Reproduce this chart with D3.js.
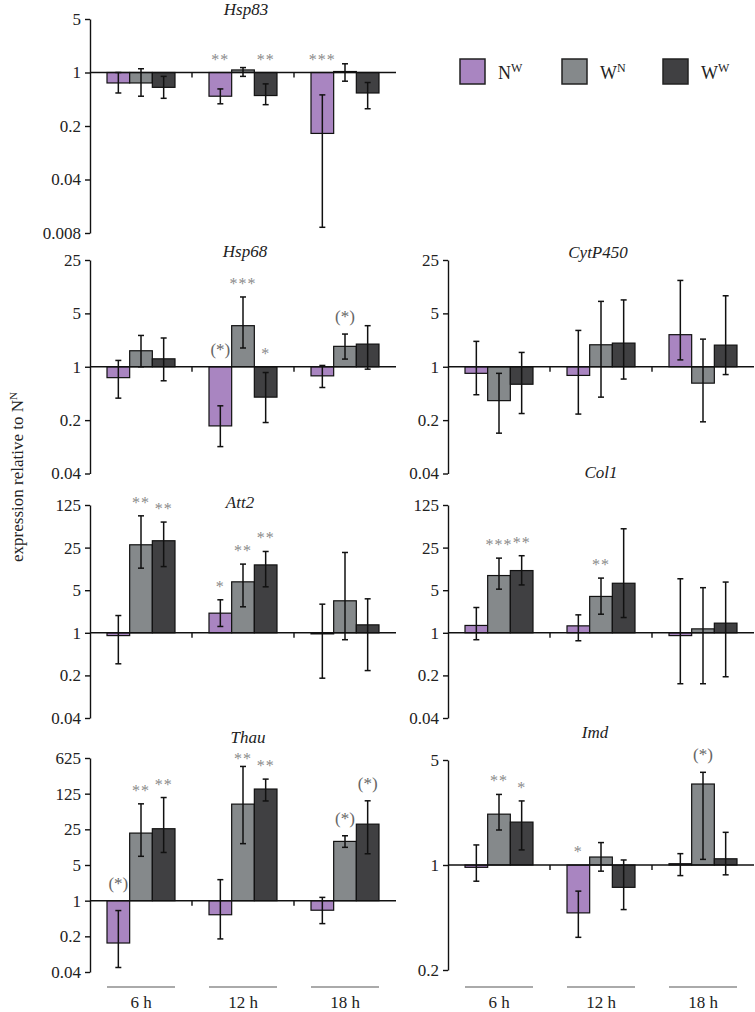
<!DOCTYPE html>
<html><head><meta charset="utf-8">
<script src="https://cdn.jsdelivr.net/npm/d3@7"></script>
<style>
body{margin:0;background:#fff;}
text{font-family:'Liberation Serif','Times New Roman',serif;fill:#222;}
</style></head>
<body>
<svg id="chart" width="755" height="1012"></svg>
<script>
// ---------- data (series x time: NW, WN, WW ; 6 h, 12 h, 18 h) ----------
const times = ["6 h", "12 h", "18 h"];
const seriesKeys = ["NW", "WN", "WW"];
const seriesBase = ["N", "W", "W"];
const seriesSup = ["W", "N", "W"];

const hsp83Mean = [[0.73, 0.49, 0.16], [0.73, 1.08, 1.03], [0.64, 0.50, 0.54]];
const hsp83Low  = [[0.54, 0.39, 0.0095], [0.49, 0.89, 0.77], [0.46, 0.38, 0.336]];
const hsp83High = [[1.0, 0.61, 0.51], [1.12, 1.16, 1.30], [0.89, 0.71, 0.74]];
const hsp83Sig  = [["", "**", "***"], ["", "", ""], ["", "**", ""]];

const hsp68Mean = [[0.72, 0.168, 0.76], [1.62, 3.45, 1.85], [1.27, 0.40, 1.98]];
const hsp68Low  = [[0.388, 0.09, 0.535], [1.0, 1.76, 1.26], [0.655, 0.186, 0.93]];
const hsp68High = [[1.21, 0.308, 1.04], [2.57, 8.2, 2.68], [2.38, 0.84, 3.45]];
const hsp68Sig  = [["", "(*)", ""], ["", "***", "(*)"], ["", "*", ""]];

const cypMean = [[0.82, 0.77, 2.63], [0.36, 1.94, 0.61], [0.59, 2.04, 1.92]];
const cypLow  = [[0.43, 0.24, 1.23], [0.135, 0.40, 0.19], [0.244, 0.69, 0.79]];
const cypHigh = [[2.15, 2.99, 13.5], [0.82, 7.18, 2.3], [1.54, 7.5, 8.5]];
const cypSig  = [["", "", ""], ["", "", ""], ["", "", ""]];

const att2Mean = [[0.90, 2.1, 0.96], [27.8, 6.86, 3.35], [32.4, 13.0, 1.35]];
const att2Low  = [[0.31, 1.27, 0.18], [11.5, 2.67, 0.77], [12.2, 5.68, 0.24]];
const att2High = [[1.92, 3.48, 2.95], [83, 13.4, 20.8], [65.6, 21.6, 3.61]];
const att2Sig  = [["", "*", ""], ["**", "**", ""], ["**", "**", ""]];

const col1Mean = [[1.32, 1.30, 0.90], [8.7, 3.95, 1.16], [10.5, 6.5, 1.44]];
const col1Low  = [[0.77, 0.74, 0.146], [5.2, 2.02, 0.146], [6.1, 1.78, 0.19]];
const col1High = [[2.6, 1.97, 7.7], [16.8, 7.9, 5.5], [18.4, 50.9, 6.8]];
const col1Sig  = [["", "", ""], ["***", "**", ""], ["**", "", ""]];

const thauMean = [[0.148, 0.53, 0.65], [21.1, 78, 14.5], [25.7, 154, 31.6]];
const thauLow  = [[0.049, 0.178, 0.355], [7.4, 13.1, 11.1], [8.8, 90, 8.3]];
const thauHigh = [[0.64, 2.58, 1.16], [79, 427, 18.7], [105, 241, 90.6]];
const thauSig  = [["(*)", "", ""], ["**", "**", "(*)"], ["**", "**", "(*)"]];

const imdMean = [[0.965, 0.48, 1.02], [2.18, 1.13, 3.46], [1.93, 0.71, 1.10]];
const imdLow  = [[0.78, 0.33, 0.85], [1.71, 0.91, 1.09], [1.26, 0.505, 0.86]];
const imdHigh = [[1.36, 0.67, 1.19], [2.95, 1.41, 4.14], [2.67, 1.08, 1.65]];
const imdSig  = [["", "*", ""], ["**", "", "(*)"], ["*", "", ""]];

const ticks83 = [0.008, 0.04, 0.2, 1, 5];
const ticks25 = [0.04, 0.2, 1, 5, 25];
const ticks125 = [0.04, 0.2, 1, 5, 25, 125];
const ticks625 = [0.04, 0.2, 1, 5, 25, 125, 625];
const ticksImd = [0.2, 1, 5];

// ---------- layout ----------
const colors = {NW: "#a985c1", WN: "#85898b", WW: "#404042"};
const colX = [90, 448];
const plotW = 306;
const FONT = "'Liberation Serif','Times New Roman',serif";

const panels = [
  {title: "Hsp83", col: 0, range: [233, 19], ticks: ticks83, mean: hsp83Mean, low: hsp83Low, high: hsp83High, sig: hsp83Sig, ty: 15, tx: 246},
  {title: "Hsp68", col: 0, range: [473.5, 260], ticks: ticks25, mean: hsp68Mean, low: hsp68Low, high: hsp68High, sig: hsp68Sig, ty: 257, tx: 245},
  {title: "CytP450", col: 1, range: [473.5, 260], ticks: ticks25, mean: cypMean, low: cypLow, high: cypHigh, sig: cypSig, ty: 258, tx: 598},
  {title: "Att2", col: 0, range: [718, 505], ticks: ticks125, mean: att2Mean, low: att2Low, high: att2High, sig: att2Sig, ty: 508, tx: 240},
  {title: "Col1", col: 1, range: [718, 505], ticks: ticks125, mean: col1Mean, low: col1Low, high: col1High, sig: col1Sig, ty: 478, tx: 601},
  {title: "Thau", col: 0, range: [972, 758], ticks: ticks625, mean: thauMean, low: thauLow, high: thauHigh, sig: thauSig, ty: 743, tx: 248, bottom: true},
  {title: "Imd", col: 1, range: [970, 760], ticks: ticksImd, mean: imdMean, low: imdLow, high: imdHigh, sig: imdSig, ty: 738, tx: 595, bottom: true}
];

const svg = d3.select("#chart");
const fmt = d => String(d);

panels.forEach(p => {
  const x0 = colX[p.col];
  const g = svg.append("g");
  const y = d3.scaleLog().domain([p.ticks[0], p.ticks[p.ticks.length - 1]]).range(p.range);
  const xg = d3.scaleBand().domain(times).range([x0, x0 + plotW]).padding(0);
  const xs = d3.scaleBand().domain(seriesKeys).range([0, xg.bandwidth()]).paddingInner(0).paddingOuter(0.75);

  // y axis
  const ax = g.append("g").attr("transform", `translate(${x0},0)`)
    .call(d3.axisLeft(y).tickValues(p.ticks).tickFormat(fmt).tickSize(5).tickSizeOuter(0).tickPadding(4));
  ax.attr("font-family", null).attr("font-size", null);
  ax.select(".domain").attr("stroke", "#111").attr("stroke-width", 1.4);
  ax.selectAll(".tick line").attr("stroke", "#111").attr("stroke-width", 1.4);
  ax.selectAll(".tick text").style("font-size", "17px").style("font-family", FONT).style("fill", "#222");

  const y1 = y(1);
  // bars
  seriesKeys.forEach((s, si) => {
    times.forEach((t, ti) => {
      const v = p.mean[si][ti];
      const bx = xg(t) + xs(s);
      g.append("rect")
        .attr("x", bx).attr("width", xs.bandwidth())
        .attr("y", Math.min(y(v), y1)).attr("height", Math.max(Math.abs(y(v) - y1), 0.8))
        .attr("fill", colors[s]).attr("stroke", "#111").attr("stroke-width", 1.2);
    });
  });
  // zero line
  g.append("line").attr("x1", x0).attr("x2", x0 + plotW).attr("y1", y1).attr("y2", y1)
    .attr("stroke", "#111").attr("stroke-width", 1.5);
  // category ticks
  times.slice(1).forEach(t => {
    g.append("line").attr("x1", xg(t)).attr("x2", xg(t)).attr("y1", y1).attr("y2", y1 + 5)
      .attr("stroke", "#111").attr("stroke-width", 1.4);
  });
  // error bars
  seriesKeys.forEach((s, si) => {
    times.forEach((t, ti) => {
      const cx = xg(t) + xs(s) + xs.bandwidth() / 2;
      const lo = y(p.low[si][ti]), hi = y(p.high[si][ti]);
      g.append("line").attr("x1", cx).attr("x2", cx).attr("y1", lo).attr("y2", hi).attr("stroke", "#111").attr("stroke-width", 1.5);
      [lo, hi].forEach(yy => g.append("line").attr("x1", cx - 3).attr("x2", cx + 3).attr("y1", yy).attr("y2", yy).attr("stroke", "#111").attr("stroke-width", 1.5));
      const lab = p.sig[si][ti];
      if (lab) {
        const top = Math.min(hi, y1);
        const paren = lab.startsWith("(");
        // centre of the mark, kept clear of the panel title when under it
        let c = top - 17;
        if (Math.abs(cx - p.tx) < 40) c = Math.max(c, p.ty + 12);
        g.append("text").attr("x", cx).attr("y", paren ? c + 5 : c + 9)
          .attr("text-anchor", "middle")
          .style("font-size", paren ? "17px" : "16px")
          .style("letter-spacing", paren ? "0px" : "1px")
          .style("fill", paren ? "#666" : "#8a8a8a")
          .text(lab);
      }
    });
  });
  // title
  g.append("text").attr("x", p.tx).attr("y", p.ty).attr("text-anchor", "middle")
    .style("font-size", "17px").style("font-style", "italic").text(p.title);

  if (p.bottom) {
    times.forEach(t => {
      const a = xg(t) + xs(seriesKeys[0]);
      const b = xg(t) + xs(seriesKeys[2]) + xs.bandwidth();
      g.append("line").attr("x1", a).attr("x2", b).attr("y1", 987).attr("y2", 987).attr("stroke", "#aaa").attr("stroke-width", 2);
      g.append("text").attr("x", (a + b) / 2).attr("y", 1008).attr("text-anchor", "middle").style("font-size", "17px").text(t);
    });
  }
});

// legend
const legX = [460, 562, 663];
seriesKeys.forEach((s, i) => {
  svg.append("rect").attr("x", legX[i]).attr("y", 59).attr("width", 25).attr("height", 25)
    .attr("fill", colors[s]).attr("stroke", "#222").attr("stroke-width", 1.5);
  const tx = svg.append("text").attr("x", legX[i] + 38).attr("y", 79).style("font-size", "18px");
  tx.append("tspan").text(seriesBase[i]);
  tx.append("tspan").attr("dy", -7).style("font-size", "12px").text(seriesSup[i]);
});

// y label
const yl = svg.append("text").attr("transform", "translate(23,477) rotate(-90)").attr("text-anchor", "middle").style("font-size", "17px");
yl.append("tspan").text("expression relative to N");
yl.append("tspan").attr("dy", -6).style("font-size", "11px").text("N");
</script>
</body></html>
